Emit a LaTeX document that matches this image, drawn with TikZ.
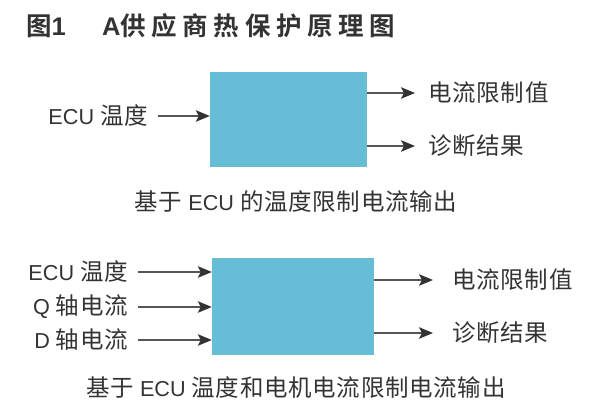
\documentclass[tikz,border=0pt]{standalone}
\usepackage{fontspec}
\setmainfont{Noto Sans CJK SC}[BoldFont={Noto Sans CJK SC Bold}]
\newfontfamily\latf{Liberation Sans}[Scale=0.92]
\newfontfamily\latbf{Liberation Sans Bold}
\usetikzlibrary{arrows.meta}
\definecolor{boxblue}{HTML}{66BDD5}
\definecolor{txt}{HTML}{333333}
\definecolor{ln}{HTML}{555555}
\newcommand{\lt}[1]{{\latf #1}}
\begin{document}
\begin{tikzpicture}[x=1pt,y=-1pt,
  lbl/.style={inner sep=0pt,text=txt,font=\fontsize{23.5}{26}\selectfont\addfontfeature{LetterSpace=3}},
  blk/.style={fill=boxblue,draw=none,inner sep=0pt},
  arr/.style={draw=ln,line width=1.2pt,-{Stealth[length=14pt,width=11.5pt,inset=3pt,fill=txt,color=txt]}},
  ttl/.style={inner sep=0pt,text=txt,font=\fontsize{25.5}{28}\selectfont\bfseries\addfontfeature{LetterSpace=22}}]
\useasboundingbox (0,0) rectangle (600,414);
\fill[white] (0,0) rectangle (600,414);
% title
\node[ttl,anchor=west] (t1) at (26,26) {图{\latbf\fontsize{25.5}{28}\selectfont 1}};
\node[ttl,anchor=west] (t2) at (102,26) {{\latbf\fontsize{25.5}{28}\selectfont A}供应商热保护原理图};
% top diagram
\node[blk,minimum width=157pt,minimum height=95pt] (b1) at (288.5,119.5) {};
\node[lbl,anchor=east] (i1) at (148,116) {\lt{ECU} 温度};
\node[lbl,anchor=west] (o1) at (428,93) {电流限制值};
\node[lbl,anchor=west] (o2) at (428,146) {诊断结果};
\draw[arr] ([xshift=10pt]i1.east) -- (i1.east -| b1.west);
\draw[arr] (b1.east |- o1.west) -- ([xshift=-13pt]o1.west);
\draw[arr] (b1.east |- o2.west) -- ([xshift=-13pt]o2.west);
\node[lbl] (c1) at (296,202) {基于 \lt{ECU} 的温度限制电流输出};
% bottom diagram
\node[blk,minimum width=162pt,minimum height=97pt] (b2) at (293,306.5) {};
\node[lbl,anchor=east] (j1) at (128,272) {\lt{ECU} 温度};
\node[lbl,anchor=east] (j2) at (128,307) {\lt{Q} 轴电流};
\node[lbl,anchor=east] (j3) at (128,340) {\lt{D} 轴电流};
\node[lbl,anchor=west] (p1) at (452,280) {电流限制值};
\node[lbl,anchor=west] (p2) at (452,333) {诊断结果};
\draw[arr] ([xshift=10pt]j1.east) -- (j1.east -| b2.west);
\draw[arr] ([xshift=10pt]j2.east) -- (j2.east -| b2.west);
\draw[arr] ([xshift=10pt]j3.east) -- (j3.east -| b2.west);
\draw[arr] (b2.east |- p1.west) -- ([xshift=-19pt]p1.west);
\draw[arr] (b2.east |- p2.west) -- ([xshift=-19pt]p2.west);
\node[lbl] (c2) at (296,388) {基于 \lt{ECU} 温度和电机电流限制电流输出};
\end{tikzpicture}
\end{document}
